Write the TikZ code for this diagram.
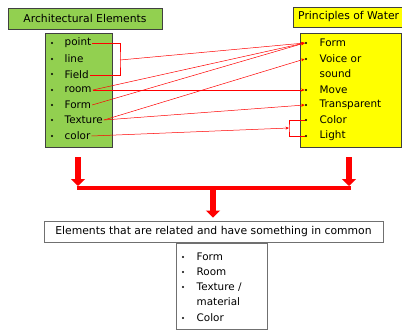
\documentclass[tikz,border=0pt]{standalone}
\usepackage{fontspec}
\setmainfont{DejaVu Sans}
\usepackage{xcolor}
\usepackage{tikz}
\usetikzlibrary{arrows.meta}
\definecolor{leafgreen}{HTML}{92D050}
\definecolor{lemon}{HTML}{FFFF00}
\definecolor{framegray}{HTML}{404040}
\definecolor{softgray}{HTML}{707070}

\tikzset{
    head/.style={draw=framegray, line width=0.9pt, inner sep=0pt},
    plain/.style={draw=softgray, line width=0.9pt, fill=white, inner sep=0pt},
    dot/.style={circle, fill=black, inner sep=0pt, minimum size=2.2pt},
    item/.style={anchor=west, inner sep=1pt, font=\fontsize{10.4}{12}\selectfont},
    big/.style={font=\fontsize{10.8}{12}\selectfont},
    link/.style={draw=red, line width=0.5pt, -{Stealth[length=3.5pt, width=3pt]}},
    wire/.style={draw=red, line width=0.5pt},
    bigarrow/.style={draw=red, line width=6pt, -{Triangle[length=7pt, width=14pt]}},
    bar/.style={draw=red, line width=3.5pt}
}

\begin{document}
\begin{tikzpicture}[x=1pt, y=-1pt]
        \useasboundingbox (0, 0) rectangle (402, 332);
        \node (lTitle) at (85, 18.5) [head, big, fill = leafgreen, minimum width = 154pt, minimum height = 21pt] {Architectural Elements};
        \node (rTitle) at (353, 17) [head, fill = lemon, minimum width = 120pt, minimum height = 20pt] {};
        \node (rTitleText) at (297, 17) [item, big] {Principles of Water};
        \node (lList) at (78.5, 90) [head, fill = leafgreen, minimum width = 67pt, minimum height = 114pt] {};
        \node (rList) at (350.5, 90) [head, fill = lemon, minimum width = 101pt, minimum height = 114pt] {};
        \node (aPoint) at (52, 43) [dot] {};
        \node (aLine) at (52, 59) [dot] {};
        \node (aField) at (52, 74) [dot] {};
        \node (aRoom) at (52, 90) [dot] {};
        \node (aForm) at (52, 105) [dot] {};
        \node (aTexture) at (52, 120) [dot] {};
        \node (aColor) at (52, 136) [dot] {};
        \node (lPoint) at (63.5, 43) [item] {point};
        \node (lLine) at (63.5, 59) [item] {line};
        \node (lField) at (63.5, 75) [item] {Field};
        \node (lRoom) at (63.5, 90) [item] {room};
        \node (lForm) at (63.5, 105) [item] {Form};
        \node (lTexture) at (63.5, 120) [item] {Texture};
        \node (lColor) at (63.5, 136) [item] {color};
        \node (bForm) at (306, 43) [dot] {};
        \node (bVoice) at (306, 59) [dot] {};
        \node (bMove) at (306, 90) [dot] {};
        \node (bTransparent) at (306, 105) [dot] {};
        \node (bColor) at (306, 120) [dot] {};
        \node (bLight) at (306, 136) [dot] {};
        \node (rForm) at (318.5, 43) [item] {Form};
        \node (rVoice) at (318.5, 59) [item] {Voice or};
        \node (rSound) at (318.5, 74) [item] {sound};
        \node (rMove) at (318.5, 90) [item] {Move};
        \node (rTransparent) at (318.5, 105) [item] {Transparent};
        \node (rColor) at (318.5, 120) [item] {Color};
        \node (rLight) at (318.5, 136) [item] {Light};
        \coordinate (lbrM) at (120, 60);
        \coordinate (rbrM) at (289, 128);
        \draw [wire] (lPoint.east) -| (lbrM) |- (lField.east);
        \draw [wire] (bColor.west) -| (rbrM) |- (bLight.west);
        \draw [link] (lbrM) -- (bForm.west);
        \draw [link] (lRoom.east) -- (bForm.west);
        \draw [link] (lForm.east) -- (bForm.west);
        \draw [link] (lRoom.east) -- (bMove.west);
        \draw [link] (lTexture.east) -- (bVoice.west);
        \draw [link] (lTexture.east) -- (bTransparent.west);
        \draw [link] (lColor.east) -- (rbrM);
        \node (common) at (213.5, 231.5) [plain, big, minimum width = 339pt, minimum height = 21pt] {Elements that are related and have something in common};
        \node (shared) at (221.5, 286) [plain, minimum width = 91pt, minimum height = 86pt] {};
        \node (cForm) at (183, 257) [dot] {};
        \node (cRoom) at (183, 272) [dot] {};
        \node (cTexture) at (183, 287) [dot] {};
        \node (cColor) at (183, 318) [dot] {};
        \node (sForm) at (195.5, 257) [item] {Form};
        \node (sRoom) at (195.5, 272) [item] {Room};
        \node (sTexture) at (195.5, 287) [item] {Texture /};
        \node (sMaterial) at (195.5, 302) [item] {material};
        \node (sColor) at (195.5, 318) [item] {Color};
        \coordinate (barL) at (78, 188);
        \coordinate (barM) at (213, 188);
        \coordinate (barR) at (349, 188);
        \draw [bar] ([xshift=-1.5pt]barL) -- ([xshift=1.5pt]barR);
        \draw [bigarrow] ([yshift=-10pt]lList.south -| barL) -- ([yshift=2pt]barL);
        \draw [bigarrow] ([yshift=-10pt]rList.south -| barR) -- ([yshift=2pt]barR);
        \draw [bigarrow] (barM) -- ([yshift=3pt]common.north -| barM);
    \end{tikzpicture}
\end{document}
